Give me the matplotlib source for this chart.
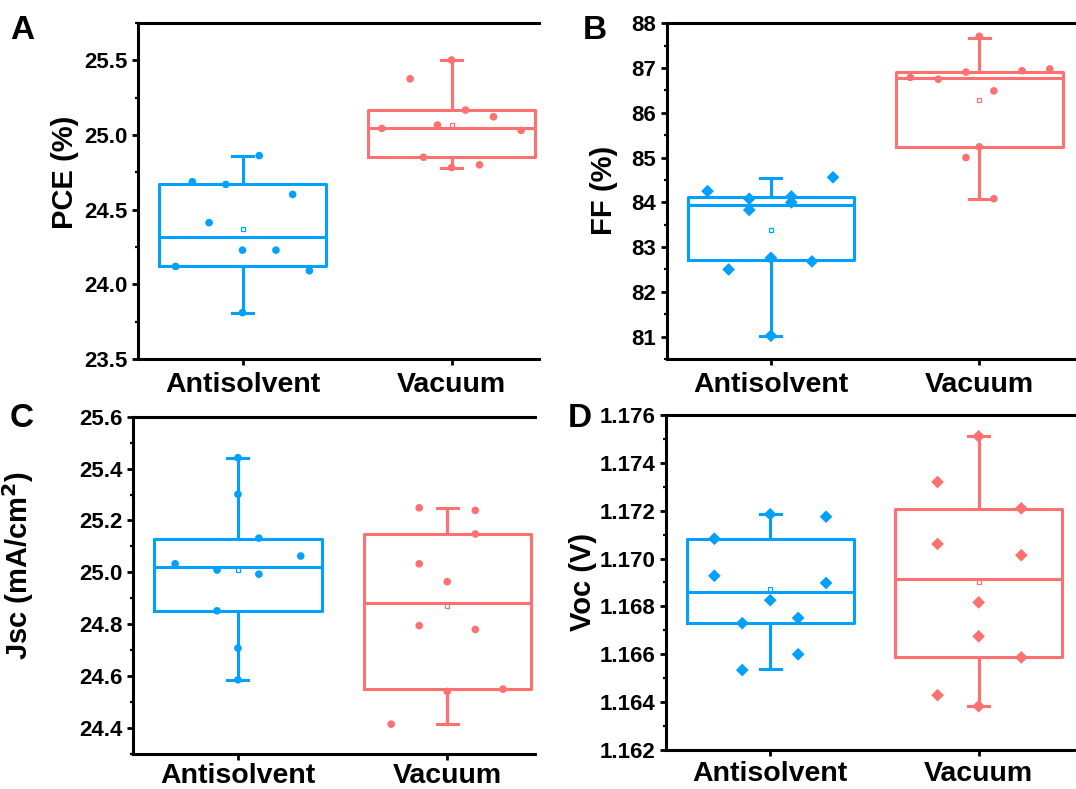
import matplotlib
matplotlib.use("Agg")
import matplotlib.pyplot as plt
from matplotlib.ticker import MultipleLocator, FormatStrFormatter

plt.rcParams["font.family"] = ["Liberation Sans", "DejaVu Sans"]
plt.rcParams["font.weight"] = "bold"
plt.rcParams["axes.labelweight"] = "bold"

groups = ["Antisolvent", "Vacuum"]

# box stats: q1, median, q3, whisker low, whisker high, mean
pce_box = [(24.12, 24.32, 24.67, 23.81, 24.86, 24.37),
           (24.85, 25.05, 25.17, 24.78, 25.50, 25.07)]
ff_box = [(82.71, 83.93, 84.12, 81.02, 84.55, 83.38),
          (85.24, 86.77, 86.92, 84.08, 87.68, 86.29)]
jsc_box = [(24.853, 25.021, 25.130, 24.586, 25.440, 25.011),
           (24.550, 24.881, 25.147, 24.415, 25.249, 24.871)]
voc_box = [(1.16732, 1.16862, 1.17082, 1.16537, 1.17185, 1.16873),
           (1.16589, 1.16916, 1.17208, 1.16383, 1.17511, 1.16901)]

# individual devices
pce_anti = [24.12, 24.687, 24.413, 24.669, 24.229, 23.811, 24.862, 24.229, 24.602, 24.091]
pce_anti_dx = [-0.32, -0.24, -0.16, -0.08, 0, 0, 0.08, 0.16, 0.24, 0.32]
pce_vac = [25.044, 25.376, 24.851, 25.067, 25.502, 24.782, 25.167, 24.800, 25.122, 25.031]
pce_vac_dx = [-0.333, -0.198, -0.134, -0.067, 0, 0, 0.067, 0.134, 0.201, 0.333]

ff_anti = [84.25, 82.50, 84.08, 83.83, 82.76, 81.02, 84.13, 84.00, 82.68, 84.56]
ff_anti_dx = [-0.304, -0.203, -0.104, -0.104, 0, 0, 0.098, 0.098, 0.197, 0.298]
ff_vac = [86.79, 86.75, 86.91, 85.00, 87.71, 85.24, 86.49, 84.08, 86.94, 86.98]
ff_vac_dx = [-0.331, -0.197, -0.064, -0.064, 0, 0, 0.070, 0.070, 0.205, 0.338]

jsc_anti = [25.033, 25.009, 24.852, 25.442, 25.301, 24.708, 24.586, 25.132, 24.993, 25.063]
jsc_anti_dx = [-0.30, -0.10, -0.10, 0, 0, 0, 0, 0.10, 0.10, 0.30]
jsc_vac = [24.415, 25.249, 25.033, 24.795, 24.964, 24.541, 25.239, 25.148, 24.780, 24.550]
jsc_vac_dx = [-0.268, -0.134, -0.134, -0.134, 0, 0, 0.134, 0.134, 0.134, 0.266]

voc_anti = [1.17083, 1.16928, 1.16730, 1.16534, 1.17185, 1.16826, 1.16752, 1.16600, 1.17175, 1.16898]
voc_anti_dx = [-0.268, -0.268, -0.134, -0.134, 0, 0, 0.134, 0.134, 0.268, 0.268]
voc_vac = [1.17320, 1.17061, 1.16429, 1.17511, 1.16817, 1.16675, 1.16383, 1.17210, 1.17014, 1.16587]
voc_vac_dx = [-0.197, -0.197, -0.197, 0, 0, 0, 0, 0.205, 0.205, 0.205]

BLUE = "#00A0FF"
RED = "#FF7070"
W, H = 1076, 789

fig = plt.figure(figsize=(W / 100, H / 100), dpi=100)


def add_ax(left, top, bottom, xmax, spacing):
    width = (xmax - 0.5) * spacing
    return fig.add_axes([left / W, 1 - bottom / H, width / W, (bottom - top) / H])


def panel(ax, boxes, pts, marks, ylim, major, fmt, ylabel, ylab_xy, letter, letter_xy, xmax, xpad=4.5):
    stats = []
    for (q1, med, q3, lo, hi, mean), g in zip(boxes, groups):
        stats.append(dict(q1=q1, med=med, q3=q3, whislo=lo, whishi=hi, mean=mean, fliers=[], label=g))
    for i, (st, col) in enumerate(zip(stats, [BLUE, RED])):
        ax.bxp([st], positions=[i + 1], widths=0.8, capwidths=0.1, showmeans=True,
               boxprops=dict(color=col, lw=2.2), medianprops=dict(color=col, lw=2.2),
               whiskerprops=dict(color=col, lw=2.2), capprops=dict(color=col, lw=2.2),
               meanprops=dict(marker="s", markersize=3.5, markerfacecolor="white",
                              markeredgecolor=col, markeredgewidth=0.9))
    for i, ((vals, dx), col, mk) in enumerate(zip(pts, [BLUE, RED], marks)):
        xs = [i + 1 + d for d in dx]
        size = 30 if mk == "o" else 42
        ax.scatter(xs, vals, s=size, marker=mk, color=col, edgecolors="none", zorder=4)
    ax.set_xlim(0.5, xmax)
    ax.set_ylim(*ylim)
    ax.set_xticks([1, 2])
    ax.set_xticklabels(groups, fontsize=20.5, fontweight="bold")
    ax.yaxis.set_major_locator(MultipleLocator(major))
    ax.yaxis.set_minor_locator(MultipleLocator(major / 2))
    ax.yaxis.set_major_formatter(FormatStrFormatter(fmt))
    for lb in ax.get_yticklabels():
        lb.set_fontsize(16)
        lb.set_fontweight("bold")
    ax.tick_params(axis="both", which="major", direction="out", length=4.5, width=2, pad=3)
    ax.tick_params(axis="y", which="minor", direction="out", length=2.5, width=1.6)
    ax.tick_params(axis="x", which="major", pad=xpad)
    for s in ["left", "bottom", "top"]:
        ax.spines[s].set_linewidth(2.2)
    ax.spines["right"].set_visible(False)
    ax.set_ylabel(ylabel, fontsize=21, fontweight="bold")
    bb = ax.get_position()
    ax.yaxis.set_label_coords((ylab_xy[0] / W - bb.x0) / bb.width,
                              ((1 - ylab_xy[1] / H) - bb.y0) / bb.height)
    fig.text(letter_xy[0] / W, 1 - letter_xy[1] / H, letter, fontsize=24, fontweight="bold",
             va="top", ha="left")


axA = add_ax(138, 23, 359, 2.42, 209)
panel(axA, pce_box, [(pce_anti, pce_anti_dx), (pce_vac, pce_vac_dx)], ["o", "o"],
      (23.5, 25.75), 0.5, "%.1f", "PCE (%)", (79, 172), "A", (10, 15), 2.42)

axB = fig.add_axes([666.7 / W, 1 - 359 / H, 2.0 * 208.4 / W, (359 - 23.3) / H])
panel(axB, ff_box, [(ff_anti, ff_anti_dx), (ff_vac, ff_vac_dx)], ["D", "o"],
      (80.5, 88), 1, "%d", "FF (%)", (618, 190), "B", (583, 15), 2.5)

axC = add_ax(133.3, 416.7, 754, 2.42, 209.3)
panel(axC, jsc_box, [(jsc_anti, jsc_anti_dx), (jsc_vac, jsc_vac_dx)], ["o", "o"],
      (24.3, 25.6), 0.2, "%.1f", "Jsc (mA/cm$^\\mathbf{2}$)", (36, 565), "C", (10, 403), 2.42,
      xpad=2)

axD = fig.add_axes([666 / W, 1 - 750 / H, 2.0 * 208.4 / W, (750 - 415) / H])
panel(axD, voc_box, [(voc_anti, voc_anti_dx), (voc_vac, voc_vac_dx)], ["D", "D"],
      (1.162, 1.176), 0.002, "%.3f", "Voc (V)", (597, 582), "D", (568, 403), 2.5, xpad=3.5)

fig.savefig("out.png", dpi=100)
